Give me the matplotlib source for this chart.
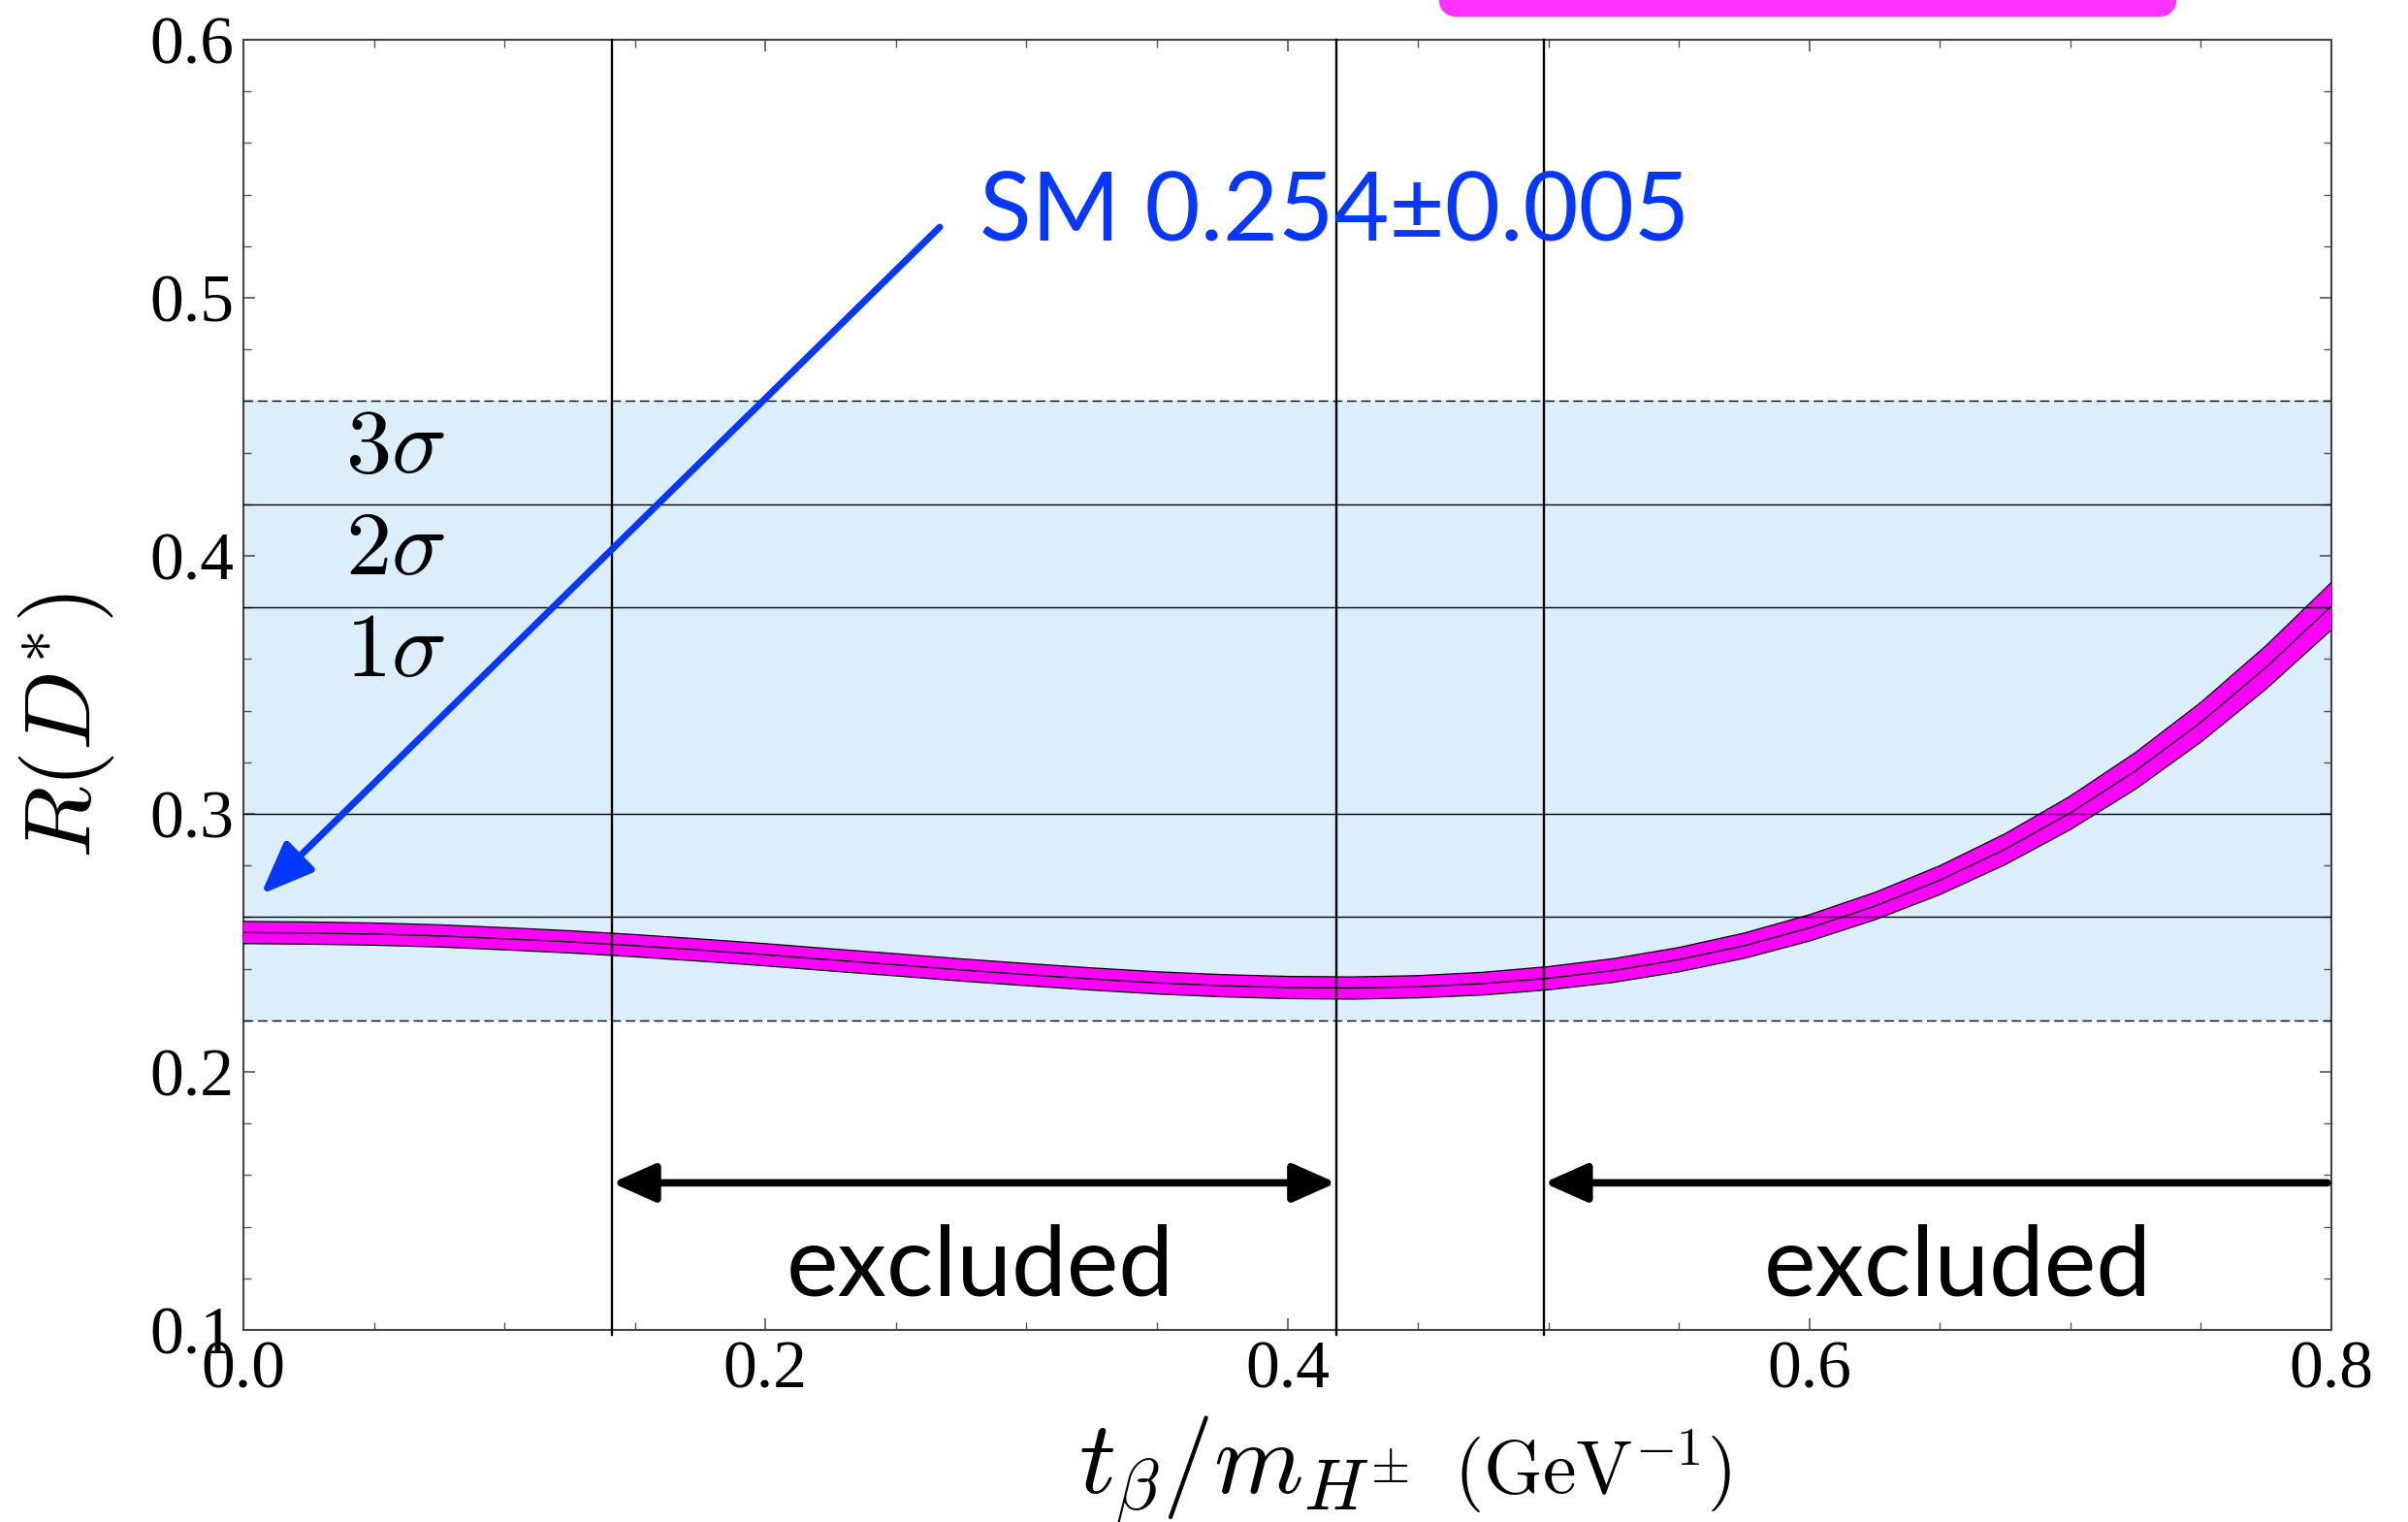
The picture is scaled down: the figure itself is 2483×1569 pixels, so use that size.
import numpy as np
import matplotlib
matplotlib.use("Agg")
import matplotlib.pyplot as plt
from matplotlib.lines import Line2D
from matplotlib.ticker import MultipleLocator

plt.rcParams["font.family"] = ["Liberation Serif", "DejaVu Serif"]
plt.rcParams["mathtext.fontset"] = "cm"

# ---------------- data ----------------
r_ratio = [0.000, 0.025, 0.050, 0.075, 0.100, 0.125, 0.150, 0.175, 0.200,
           0.225, 0.250, 0.275, 0.300, 0.325, 0.350, 0.375, 0.400, 0.425,
           0.450, 0.475, 0.500, 0.525, 0.550, 0.575, 0.600, 0.625, 0.650,
           0.675, 0.700, 0.725, 0.750, 0.775, 0.800]
rdstar_central = [0.2540, 0.2538, 0.2534, 0.2527, 0.2516, 0.2504, 0.2489, 0.2472, 0.2454,
                  0.2434, 0.2415, 0.2395, 0.2377, 0.2360, 0.2345, 0.2334, 0.2327, 0.2325,
                  0.2330, 0.2342, 0.2363, 0.2393, 0.2435, 0.2489, 0.2558, 0.2642, 0.2743,
                  0.2863, 0.3004, 0.3167, 0.3355, 0.3568, 0.3805]
rdstar_err = [0.0043, 0.0043, 0.0043, 0.0043, 0.0043, 0.0043, 0.0043, 0.0043, 0.0043,
              0.0043, 0.0043, 0.0043, 0.0043, 0.0043, 0.0043, 0.0043, 0.0043, 0.0043,
              0.0043, 0.0044, 0.0045, 0.0046, 0.0047, 0.0049, 0.0051, 0.0053, 0.0056,
              0.0060, 0.0065, 0.0071, 0.0077, 0.0084, 0.0092]

exp_band = [0.22, 0.46]
sigma_lines = [0.26, 0.30, 0.38, 0.42]
sigma_edges = [0.22, 0.46]
sigma_labels = [r"$3\sigma$", r"$2\sigma$", r"$1\sigma$"]
sigma_label_y = [0.4325, 0.3930, 0.3535]

excl_lines = [0.1412, 0.4187, 0.4982]
sm_text = "SM 0.254\u00b10.005"

blue = "#0437ff"

# ---------------- figure ----------------
fig = plt.figure(figsize=(24.83, 15.69), dpi=100)
ax = fig.add_axes([0.1011, 0.1262, 0.8671, 0.8477])
ax.set_xlim(0, 0.8)
ax.set_ylim(0.1, 0.6)

ax.axhspan(exp_band[0], exp_band[1], color="#dcedfc", lw=0, zorder=0)
for y in sigma_lines:
    ax.axhline(y, color="k", lw=1.0, zorder=4)
for y in sigma_edges:
    ax.axhline(y, color="k", lw=1.0, ls=(0, (7, 3.5)), zorder=4)

x = np.array(r_ratio)
c = np.array(rdstar_central)
e = np.array(rdstar_err)
ax.fill_between(x, c - e, c + e, facecolor="#ff00ff", lw=0, zorder=3)
ax.plot(x, c + e, color="k", lw=0.9, zorder=4)
ax.plot(x, c - e, color="k", lw=0.9, zorder=4)
ax.plot(x, c, color="k", lw=1.0, zorder=4)

for xv in excl_lines:
    ax.axvline(xv, ymin=-0.004, color="k", lw=1.7, zorder=5, clip_on=False)

for lab, yl in zip(sigma_labels, sigma_label_y):
    ax.text(0.058, yl, lab, fontsize=68, ha="center", va="baseline", zorder=6)

# exclusion arrows
ax.annotate("", xy=(excl_lines[1], 0.157), xytext=(excl_lines[0], 0.157),
            arrowprops=dict(arrowstyle="<|-|>,head_length=0.45,head_width=0.2",
                            mutation_scale=60, lw=5.5, color="k",
                            shrinkA=0, shrinkB=0), zorder=6)
ax.annotate("", xy=(excl_lines[2], 0.157), xytext=(0.7985, 0.157),
            arrowprops=dict(arrowstyle="-|>,head_length=0.45,head_width=0.2",
                            mutation_scale=60, lw=5.5, color="k",
                            shrinkA=0, shrinkB=0), zorder=6)
for xt in [0.2824, 0.657]:
    ax.text(xt, 0.1132, "excluded", family=["Lato", "DejaVu Sans"], fontsize=73,
            ha="center", va="baseline", zorder=6)

# SM annotation
ax.annotate("", xy=(0.0067, 0.2688), xytext=(0.2668, 0.5274),
            arrowprops=dict(arrowstyle="-|>,head_length=0.55,head_width=0.22",
                            mutation_scale=60, lw=5, color=blue,
                            shrinkA=0, shrinkB=0), zorder=7)
ax.text(0.282, 0.5222, sm_text, family=["Lato", "DejaVu Sans"], fontsize=71,
        color=blue, ha="left", va="baseline", zorder=7)

# axes styling
ax.xaxis.set_major_locator(MultipleLocator(0.2))
ax.xaxis.set_minor_locator(MultipleLocator(0.05))
ax.yaxis.set_major_locator(MultipleLocator(0.1))
ax.yaxis.set_minor_locator(MultipleLocator(0.02))
ax.tick_params(which="both", direction="in", top=True, right=True, color="#555555")
ax.tick_params(which="major", length=8.5, width=1.2, labelsize=50)
ax.tick_params(axis="y", which="major", pad=7)
ax.tick_params(axis="x", which="major", pad=8)
ax.tick_params(which="minor", length=5.5, width=1.0)
for sp in ax.spines.values():
    sp.set_color("#444444")
    sp.set_linewidth(1.5)

fig.text(68 / 2483, 1 - 748 / 1569, r"$R(D^{*})$", rotation=90, fontsize=70,
         ha="center", va="center")
fig.text(1453 / 2483, 1 - 1540 / 1569, r"$t_\beta/m_{H^{\pm}}$", fontsize=76,
         ha="right", va="baseline")
fig.text(1499 / 2483, 1 - 1540 / 1569, r"$(\mathrm{GeV}^{-1})$", fontsize=56,
         ha="left", va="baseline")

# clipped magenta mark at the top edge
fig.add_artist(Line2D([1500 / 2483, 2227 / 2483], [1.0, 1.0], transform=fig.transFigure,
                      color="#ff33ff", lw=24, solid_capstyle="round"))

fig.savefig("out.png", dpi=100)
